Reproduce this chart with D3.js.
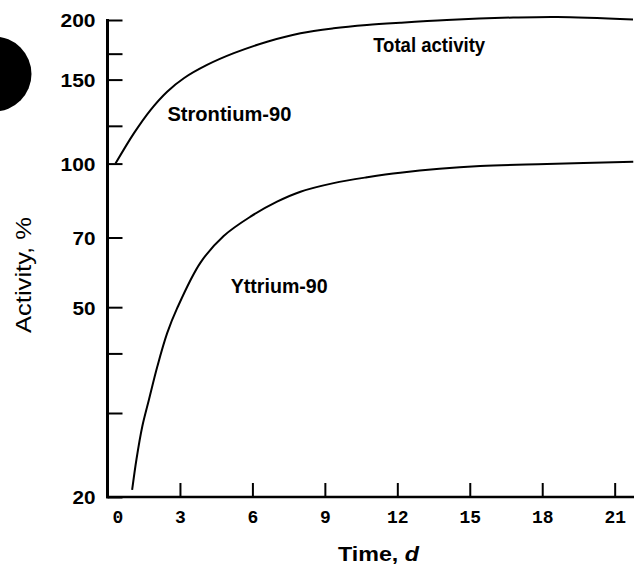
<!DOCTYPE html>
<html>
<head>
<meta charset="utf-8">
<script src="https://cdn.jsdelivr.net/npm/d3@7"></script>
<style>
  html, body { margin: 0; padding: 0; background: #fff; }
  svg { display: block; }
</style>
</head>
<body>
<svg id="chart" width="636" height="567"></svg>
<script>
// ---- data ----
const xTickValues = [0, 3, 6, 9, 12, 15, 18, 21];
const yLabeledTicks = [20, 50, 70, 100, 150, 200];
const yMinorTicks = [30, 40, 120, 170];

const totalDays   = [0.33, 1.09, 1.78, 2.47, 3.16, 4.12, 5.23, 6.61, 7.99, 9.36, 10.74, 12.12, 14.05, 16.8, 18.62, 21.76];
const totalValues = [100, 115.7, 129.5, 141.5, 151, 161, 170.4, 180.1, 187.6, 192.1, 195.2, 197.4, 200, 202.4, 203, 200.5];

const yttriumDays   = [1.02, 1.2, 1.44, 1.71, 2.06, 2.47, 2.88, 3.85, 4.81, 5.92, 7.02, 7.99, 9.36, 10.74, 12.12, 15.43, 18.19, 21.77];
const yttriumValues = [20.7, 24.0, 28.1, 31.9, 37.5, 44.1, 49.7, 62.0, 70.5, 77.4, 83.2, 87.3, 91.0, 93.6, 95.7, 98.8, 99.8, 100.9];

const labels = [
  { text: "Total activity", day: 11, value: 171, len: 112 },
  { text: "Strontium-90",   day: 2.48, value: 123, len: 124 },
  { text: "Yttrium-90",     day: 5.1,  value: 53.5, len: 97 }
];

// ---- drawing ----
const svg = d3.select("#chart");
const x = d3.scaleLinear().domain([0, 21.8]).range([107.5, 634]);
const y = d3.scaleLog().domain([20, 200]).range([497, 20]);

// hole-punch blob on the left edge
svg.append("circle").attr("cx", -6).attr("cy", 74).attr("r", 37.5).attr("fill", "#000");

// y axis
const yAxis = d3.axisLeft(y)
  .tickValues(yLabeledTicks.concat(yMinorTicks))
  .tickFormat(d => yLabeledTicks.includes(d) ? String(d) : "")
  .tickSizeInner(-15).tickSizeOuter(0).tickPadding(12);
const gy = svg.append("g").attr("transform", `translate(${x(0)},0)`).call(yAxis);
gy.select(".domain").remove();
gy.selectAll(".tick line").attr("stroke", "#000").attr("stroke-width", 2);
gy.selectAll(".tick text")
  .attr("font-family", "'Liberation Sans', Arial, sans-serif")
  .attr("font-weight", "bold")
  .attr("font-size", 19)
  .attr("fill", "#000")
  .attr("dy", "0.36em")
  .each(function(d) {
    const s = String(d);
    if (yLabeledTicks.includes(d)) {
      d3.select(this).attr("textLength", s.length * 12 - 1).attr("lengthAdjust", "spacingAndGlyphs");
    }
  });

// x axis
const xAxis = d3.axisBottom(x)
  .tickValues(xTickValues)
  .tickSizeInner(-14).tickSizeOuter(0).tickPadding(13);
const gx = svg.append("g").attr("transform", `translate(0,${y(20)})`).call(xAxis);
gx.select(".domain").remove();
gx.selectAll(".tick line").attr("stroke", "#000").attr("stroke-width", 2)
  .filter(d => d === 0).remove();
gx.selectAll(".tick text")
  .attr("font-family", "'Liberation Mono', 'DejaVu Sans Mono', monospace")
  .attr("font-weight", "bold")
  .attr("font-size", 18)
  .attr("fill", "#000")
  .attr("dx", d => d === 0 ? 10 : 0);

// axis lines
svg.append("line").attr("x1", x(0)).attr("x2", x(0)).attr("y1", y(200) - 1).attr("y2", y(20) + 1.2)
  .attr("stroke", "#000").attr("stroke-width", 3);
svg.append("line").attr("x1", x(0) - 1.5).attr("x2", x(21.8)).attr("y1", y(20)).attr("y2", y(20))
  .attr("stroke", "#000").attr("stroke-width", 2.5);

// curves
const line = d3.line().x(d => x(d[0])).y(d => y(d[1])).curve(d3.curveCatmullRom.alpha(0.5));
svg.append("path").datum(d3.zip(totalDays, totalValues)).attr("d", line)
  .attr("fill", "none").attr("stroke", "#000").attr("stroke-width", 2);
svg.append("path").datum(d3.zip(yttriumDays, yttriumValues)).attr("d", line)
  .attr("fill", "none").attr("stroke", "#000").attr("stroke-width", 2);

// curve labels
labels.forEach(l => {
  svg.append("text")
    .attr("x", x(l.day)).attr("y", y(l.value))
    .attr("font-family", "'Liberation Sans', Arial, sans-serif")
    .attr("font-weight", "bold")
    .attr("font-size", 20)
    .attr("textLength", l.len).attr("lengthAdjust", "spacingAndGlyphs")
    .attr("fill", "#000")
    .text(l.text);
});

// axis titles
const xt = svg.append("text")
  .attr("x", 338).attr("y", 561)
  .attr("font-family", "'Liberation Sans', Arial, sans-serif")
  .attr("font-weight", "bold").attr("font-size", 21).attr("fill", "#000")
  .attr("textLength", 81).attr("lengthAdjust", "spacingAndGlyphs");
xt.append("tspan").text("Time, ");
xt.append("tspan").attr("font-style", "italic").text("d");

svg.append("text")
  .attr("transform", "translate(31,275) rotate(-90)")
  .attr("text-anchor", "middle")
  .attr("font-family", "'Liberation Sans', Arial, sans-serif")
  .attr("font-size", 22).attr("fill", "#000")
  .attr("textLength", 116).attr("lengthAdjust", "spacingAndGlyphs")
  .text("Activity, %");
</script>
</body>
</html>
